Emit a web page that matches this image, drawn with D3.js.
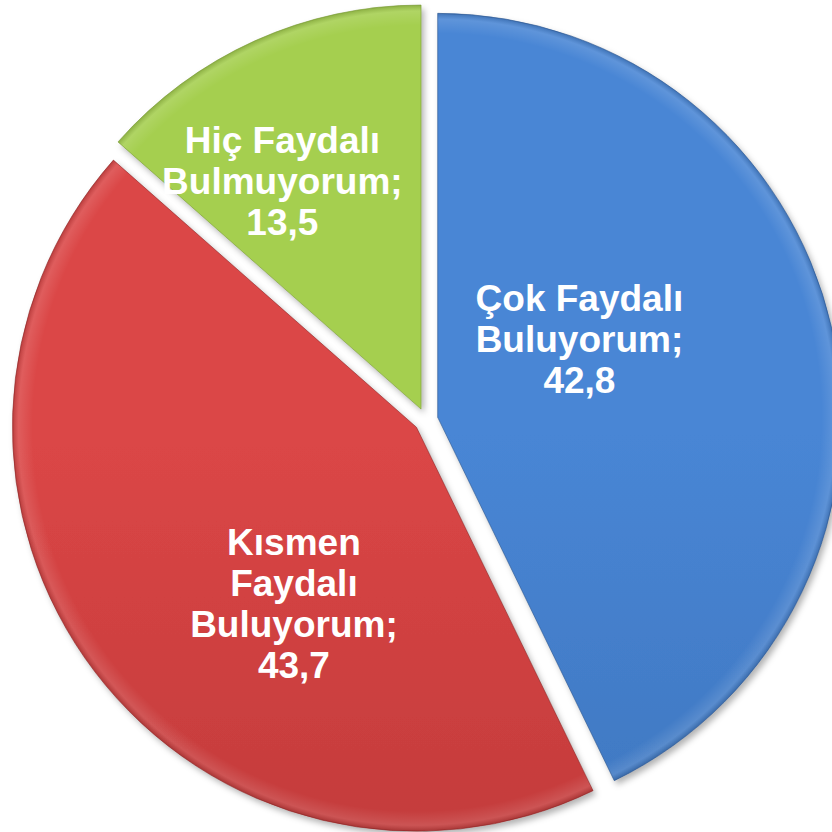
<!DOCTYPE html>
<html>
<head>
<meta charset="utf-8">
<script src="https://cdn.jsdelivr.net/npm/d3@7"></script>
<style>
  body { margin: 0; background: #fff; }
  svg { display: block; }
</style>
</head>
<body>
<div id="chart"></div>
<script>
// data
var labels = ["Çok Faydalı Buluyorum;", "Kısmen Faydalı Buluyorum;", "Hiç Faydalı Bulmuyorum;"];
var values = [42.8, 43.7, 13.5];
var labelLines = [
  ["Çok Faydalı", "Buluyorum;", "42,8"],
  ["Kısmen", "Faydalı", "Buluyorum;", "43,7"],
  ["Hiç Faydalı", "Bulmuyorum;", "13,5"]
];

// styles
var topColors = ["#4886d5", "#db4646", "#a5cf50"];
var bottomColors = ["#3869ad", "#ab3131", "#92bc41"];
var labelRadius = [162, 215, 267];
var labelAngleShift = [-16, -18, -7]; // degrees

var width = 832, height = 832;
var cx = 426, cy = 420;
var radius = 404;
var explode = 12;

var svg = d3.select("#chart").append("svg")
  .attr("width", width)
  .attr("height", height);

var defs = svg.append("defs");

var shadow = defs.append("filter")
  .attr("id", "shadow")
  .attr("x", "-10%").attr("y", "-10%")
  .attr("width", "120%").attr("height", "120%");
shadow.append("feDropShadow")
  .attr("dx", 3).attr("dy", 4)
  .attr("stdDeviation", 3)
  .attr("flood-color", "#000")
  .attr("flood-opacity", 0.3);

values.forEach(function(v, i) {
  var g = defs.append("linearGradient")
    .attr("id", "grad" + i)
    .attr("gradientUnits", "userSpaceOnUse")
    .attr("x1", 0).attr("y1", cy - radius)
    .attr("x2", 0).attr("y2", cy + radius);
  g.append("stop").attr("offset", "0%").attr("stop-color", topColors[i]);
  g.append("stop").attr("offset", "100%").attr("stop-color", bottomColors[i]);

  // rim highlight
  var r = defs.append("radialGradient")
    .attr("id", "rim" + i)
    .attr("gradientUnits", "userSpaceOnUse")
    .attr("cx", 0).attr("cy", 0).attr("r", radius);
  r.append("stop").attr("offset", "95%").attr("stop-color", "#fff").attr("stop-opacity", 0);
  r.append("stop").attr("offset", "98.5%").attr("stop-color", "#fff").attr("stop-opacity", 0.12);
  r.append("stop").attr("offset", "100%").attr("stop-color", "#000").attr("stop-opacity", 0.15);
});

var pie = d3.pie().sort(null).value(function(d) { return d; });
var arcs = pie(values);

var arc = d3.arc().innerRadius(0).outerRadius(radius);

var chartGroup = svg.append("g")
  .attr("transform", "translate(" + cx + "," + cy + ")");

var slices = chartGroup.selectAll("g.slice")
  .data(arcs)
  .enter()
  .append("g")
  .attr("class", "slice")
  .attr("transform", function(d) {
    var mid = (d.startAngle + d.endAngle) / 2;
    return "translate(" + (Math.sin(mid) * explode) + "," + (-Math.cos(mid) * explode) + ")";
  });

slices.append("path")
  .attr("d", arc)
  .attr("fill", function(d, i) { return "url(#grad" + i + ")"; })
  .attr("filter", "url(#shadow)");

slices.append("path")
  .attr("d", arc)
  .attr("fill", function(d, i) { return "url(#rim" + i + ")"; })
  .attr("stroke", function(d, i) { return d3.color(bottomColors[i]).darker(0.6); })
  .attr("stroke-width", 1)
  .attr("stroke-opacity", 0.6);

// labels
var lineHeight = 41;
slices.each(function(d, i) {
  var a = (d.startAngle + d.endAngle) / 2 + labelAngleShift[i] * Math.PI / 180;
  var x = Math.sin(a) * labelRadius[i];
  var y = -Math.cos(a) * labelRadius[i];
  var lines = labelLines[i];
  var t = d3.select(this).append("text")
    .attr("text-anchor", "middle")
    .attr("font-family", "Liberation Sans, Arial, sans-serif")
    .attr("font-weight", "bold")
    .attr("font-size", 37)
    .attr("fill", "#fff");
  lines.forEach(function(line, j) {
    t.append("tspan")
      .attr("x", x)
      .attr("y", y + (j - (lines.length - 1) / 2) * lineHeight + 13)
      .text(line);
  });
});
</script>
</body>
</html>
